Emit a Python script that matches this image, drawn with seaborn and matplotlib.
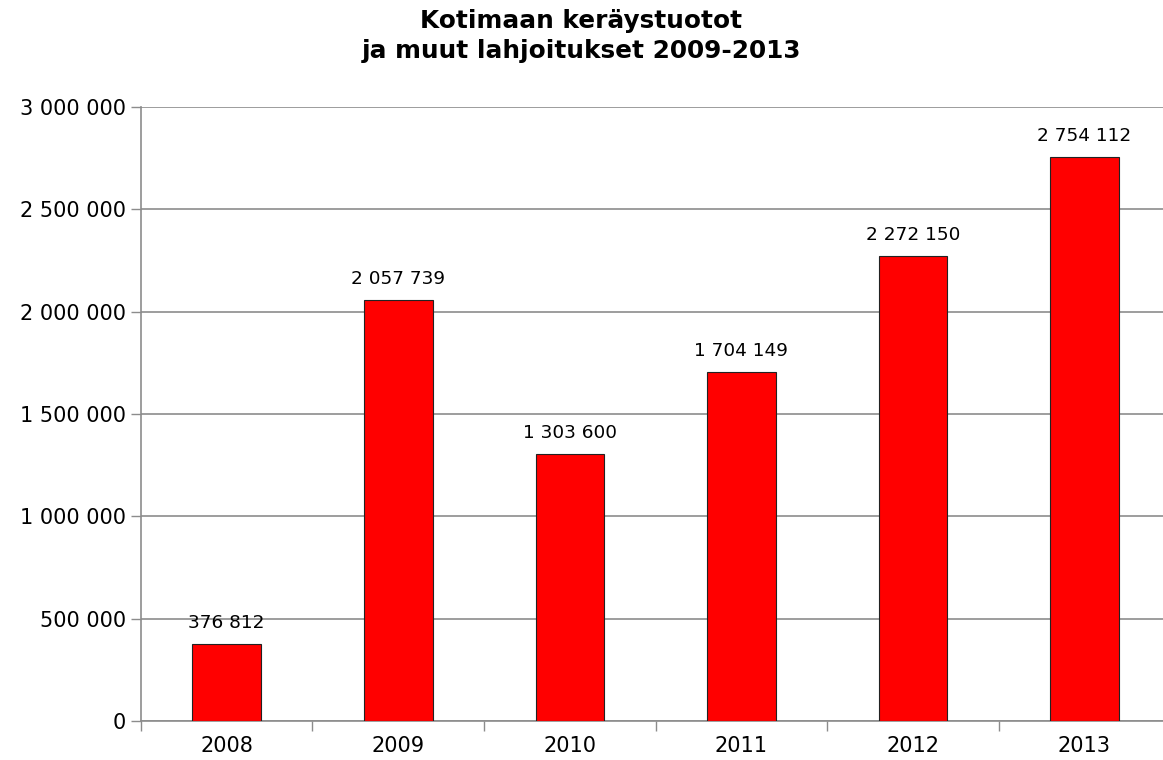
import matplotlib
matplotlib.use("Agg")
import matplotlib.pyplot as plt
import seaborn as sns
import pandas as pd
from matplotlib.ticker import FuncFormatter, FixedLocator

# Data
years = ["2008", "2009", "2010", "2011", "2012", "2013"]
amounts = [376812, 2057739, 1303600, 1704149, 2272150, 2754112]

sns.set_theme(style="white")
plt.rcParams['font.family'] = ['DejaVu Sans']

df = pd.DataFrame({"Vuosi": years, "Summa": amounts})


def spaced(v):
    # thousands separated by spaces, e.g. 2 754 112
    return f"{int(round(v)):,}".replace(",", " ")


fig = plt.figure(figsize=(11.63, 7.6), dpi=100)
ax = fig.add_axes([0.1212, 0.0513, 0.885, 0.808])

sns.barplot(data=df, x="Vuosi", y="Summa", order=years, color="#ff0000",
            saturation=1, width=0.4, edgecolor="#222222", linewidth=0.8, ax=ax, zorder=3)

ax.set_ylim(0, 3000000)
ax.set_xlim(-0.5, len(years) - 0.5)
ax.set_yticks(range(0, 3000001, 500000))
ax.yaxis.set_major_formatter(FuncFormatter(lambda v, p: spaced(v)))
ax.grid(axis="y", color="#8c8c8c", linewidth=1.2, zorder=0)
ax.grid(axis="x", visible=False)

# x ticks sit on category boundaries, labels in the middle
ax.xaxis.set_major_locator(FixedLocator([i - 0.5 for i in range(len(years) + 1)]))
ax.xaxis.set_major_formatter(FuncFormatter(lambda v, p: ""))
ax.xaxis.set_minor_locator(FixedLocator(list(range(len(years)))))
ax.set_xticklabels(years, minor=True)
ax.tick_params(axis="x", which="major", length=7, width=1, color="#8c8c8c", direction="out", bottom=True)
ax.tick_params(axis="x", which="minor", length=0, pad=11, labelsize=15, labelcolor="black")
ax.tick_params(axis="y", length=7, width=1, color="#8c8c8c", direction="out", left=True,
               labelsize=15, labelcolor="black", pad=4)

for s in ["top", "right"]:
    ax.spines[s].set_visible(False)
for s in ["left", "bottom"]:
    ax.spines[s].set_color("#8c8c8c")
    ax.spines[s].set_linewidth(1.2)

ax.set_xlabel("")
ax.set_ylabel("")

for i, v in enumerate(amounts):
    ax.text(i, v + 60000, spaced(v), ha="center", va="bottom", fontsize=13.3, color="black")

fig.text(0.5, 0.953, "Kotimaan keräystuotot\nja muut lahjoitukset 2009-2013", ha="center",
         va="center", fontsize=17.8, fontweight="bold", color="black", linespacing=1.3)

fig.savefig("out.png", dpi=100)
